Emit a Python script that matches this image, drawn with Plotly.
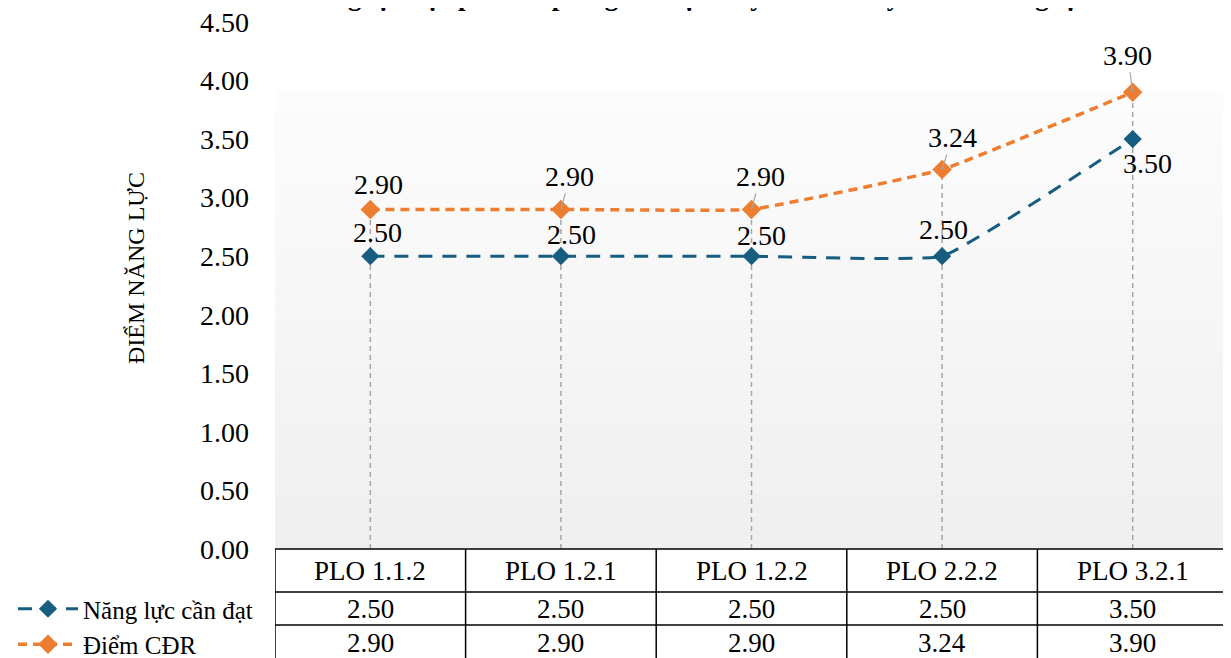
import plotly.graph_objects as go

# chart data
categories = ["PLO 1.1.2", "PLO 1.2.1", "PLO 1.2.2", "PLO 2.2.2", "PLO 3.2.1"]
required_name = "Năng lực cần đạt"
required_values = [2.50, 2.50, 2.50, 2.50, 3.50]
score_name = "Điểm CĐR"
score_values = [2.90, 2.90, 2.90, 3.24, 3.90]
y_ticks = [0.0, 0.5, 1.0, 1.5, 2.0, 2.5, 3.0, 3.5, 4.0, 4.5]
title_text = "Năng lực học phần đáp ứng đào tạo và yêu cầu chuyên môn năng lực"
y_title = "ĐIỂM NĂNG LỰC"

FONT = "Liberation Serif, Times New Roman, serif"
BLUE = "#175d80"
ORANGE = "#ed7d31"
GREY = "#a6a6a6"

# page has an 8px body margin, so the figure is drawn 8px in from the corner
OFF = 8
W, H = 1223, 650
M_L, M_R, M_T, M_B = 267, 3, 14, 109
PLOT_W = W - M_L - M_R
PLOT_H = H - M_T - M_B
PLOT_BOTTOM = H - M_B


def py(px):
    """screen pixel row -> paper y"""
    return (PLOT_BOTTOM - (px - OFF)) / PLOT_H


def fx(px):
    """screen pixel column -> paper x"""
    return (px - OFF - M_L) / PLOT_W


# label offsets in px (dx, dy, leader line)
required_offsets = [(7, -24, False), (11, -22, False), (10, -21, False), (1, -27, False), (15, 24, False)]
score_offsets = [(8, -25, False), (9, -33, True), (9, -33, True), (10, -32, True), (-5, -37, True)]

x_idx = list(range(len(categories)))

fig = go.Figure()

fig.add_trace(go.Scatter(
    x=x_idx, y=required_values, name=required_name, mode="lines+markers",
    line=dict(color=BLUE, width=3, dash="14px,10px", shape="spline", smoothing=0.3),
    marker=dict(symbol="diamond", size=14, color=BLUE),
))
fig.add_trace(go.Scatter(
    x=x_idx, y=score_values, name=score_name, mode="lines+markers",
    line=dict(color=ORANGE, width=3.5, dash="9px,6px", shape="spline", smoothing=0.3),
    marker=dict(symbol="diamond", size=15, color=ORANGE),
))

shapes = []

# plot area gradient
n_bands = 40
top = py(90)
for i in range(n_bands):
    t = i / (n_bands - 1)
    c = int(round(0xef + (0xfc - 0xef) * t))
    shapes.append(dict(
        type="rect", xref="paper", yref="paper",
        x0=0, x1=1, y0=top * i / n_bands, y1=top * (i + 1) / n_bands,
        fillcolor=f"rgb({c},{c},{c})", line_width=0, layer="below",
    ))

# drop lines
for i, (a, b) in enumerate(zip(required_values, score_values)):
    shapes.append(dict(
        type="line", xref="x", yref="y", x0=i, x1=i, y0=0, y1=max(a, b),
        line=dict(color=GREY, width=1.5, dash="5px,4px"), layer="below",
    ))

# data table
row_lines = [549, 592, 625]
col_w = PLOT_W / len(categories)
table_left = -0.5 - (M_L - 0.5) / col_w
border = dict(color="black", width=1.5)
shapes.append(dict(type="line", xref="x", yref="paper", x0=-0.5, x1=len(categories) - 0.5,
                   y0=py(row_lines[0]), y1=py(row_lines[0]), line=border))
for r in row_lines[1:]:
    shapes.append(dict(type="line", xref="x", yref="paper", x0=table_left, x1=len(categories) - 0.5,
                       y0=py(r), y1=py(r), line=border))
for i in range(len(categories) + 1):
    shapes.append(dict(type="line", xref="x", yref="paper", x0=i - 0.5, x1=i - 0.5,
                       y0=py(row_lines[0]), y1=py(H + 20), line=border))
shapes.append(dict(type="line", xref="x", yref="paper", x0=table_left, x1=table_left,
                   y0=py(row_lines[1]), y1=py(H + 20), line=border))

annotations = []
row_centers = [571, 609, 643]
cell = dict(xref="x", yref="paper", xanchor="center", yanchor="middle", showarrow=False,
            font=dict(size=27))
for i, cat in enumerate(categories):
    annotations.append(dict(cell, x=i, y=py(row_centers[0]), text=cat))
    annotations.append(dict(cell, x=i, y=py(row_centers[1]), text=f"{required_values[i]:.2f}"))
    annotations.append(dict(cell, x=i, y=py(row_centers[2]), text=f"{score_values[i]:.2f}"))

# data labels
for values, offsets in [(required_values, required_offsets), (score_values, score_offsets)]:
    for i, (v, (dx, dy, leader)) in enumerate(zip(values, offsets)):
        if leader:
            annotations.append(dict(x=i, y=v, xref="x", yref="y", text=f"{v:.2f}",
                                    showarrow=True, arrowhead=0, arrowwidth=1.2, arrowcolor=GREY,
                                    ax=dx, ay=dy, font=dict(size=28)))
        else:
            annotations.append(dict(x=i, y=v, xref="x", yref="y", text=f"{v:.2f}",
                                    xanchor="center", yanchor="middle",
                                    showarrow=False, xshift=dx, yshift=-dy, font=dict(size=28)))

# y axis title
annotations.append(dict(x=fx(136), y=py(268), xref="paper", yref="paper",
                        xanchor="center", yanchor="middle",
                        text=y_title, textangle=-90, showarrow=False, font=dict(size=24)))
# chart title, cut off at the top edge
annotations.append(dict(x=fx(695), y=1 + (M_T - 5) / PLOT_H,
                        xref="paper", yref="paper", xanchor="center", yanchor="bottom",
                        text=f"<b>{title_text}</b>", showarrow=False, font=dict(size=27)))

fig.update_layout(
    width=W, height=H,
    margin=dict(l=M_L, r=M_R, t=M_T, b=M_B, autoexpand=False),
    paper_bgcolor="white", plot_bgcolor="white",
    font=dict(family=FONT, color="black", size=26),
    xaxis=dict(range=[-0.5, len(categories) - 0.5], showticklabels=False, showgrid=False,
               zeroline=False, showline=False, fixedrange=True),
    yaxis=dict(range=[0, 4.5], tickvals=y_ticks, tickformat=".2f", showgrid=False,
               zeroline=False, showline=False, ticks="", ticklabelstandoff=25,
               ticklabeloverflow="allow", tickfont=dict(size=28)),
    legend=dict(xref="container", yref="container", x=5 / W, y=(H - 578) / H,
                xanchor="left", yanchor="top", itemwidth=60, bgcolor="rgba(0,0,0,0)",
                font=dict(size=25), tracegroupgap=0),
    shapes=shapes,
    annotations=annotations,
)

fig.write_html("out.html")
